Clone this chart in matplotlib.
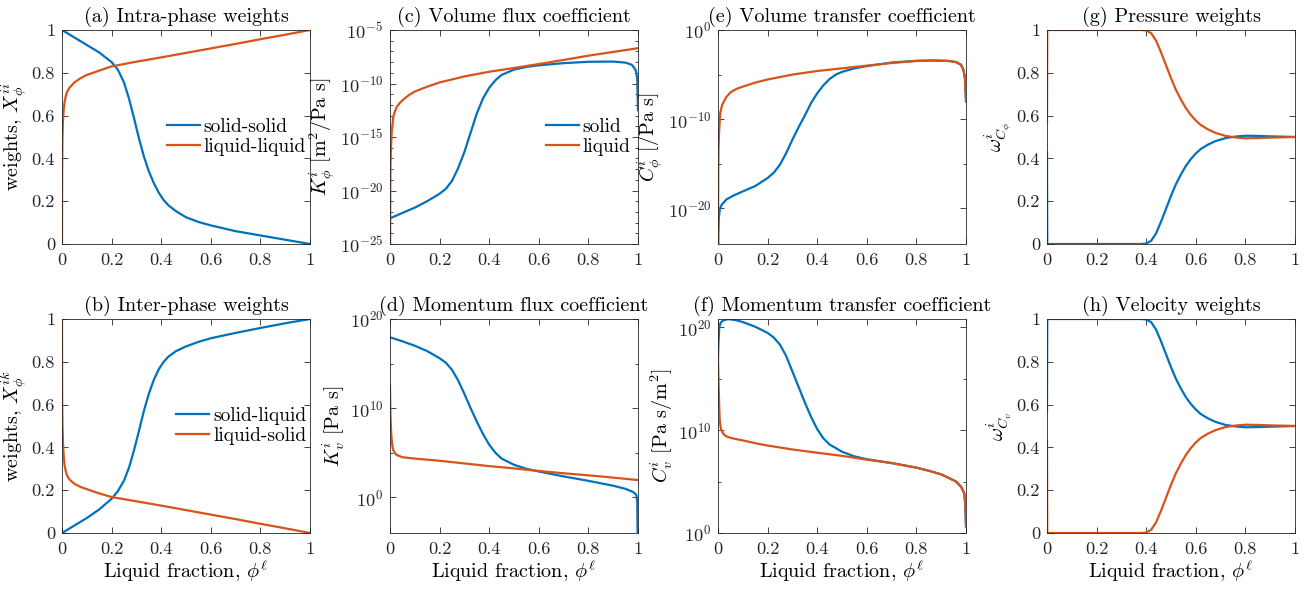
import numpy as np
import matplotlib
matplotlib.use("Agg")
import matplotlib.pyplot as plt

plt.rcParams['font.family'] = 'serif'
plt.rcParams['font.serif'] = ['cmr10']
plt.rcParams['mathtext.fontset'] = 'cm'
plt.rcParams['axes.unicode_minus'] = False

BLUE = '#0072BD'
ORANGE = '#D95319'
GREY = '#262626'
FS = 14.5       # titles and axis labels
TICK_FS = 13.2  # tick labels
LEG_FS = 14     # legend entries

# (a) intra-phase weights
xa_solid = [0, 0.05, 0.1, 0.15, 0.2, 0.225, 0.25, 0.27, 0.29, 0.31, 0.33, 0.35, 0.37, 0.39, 0.41,
            0.43, 0.46, 0.5, 0.55, 0.6, 0.7, 0.8, 0.9, 1]
ya_solid = [1, 0.965, 0.93, 0.895, 0.85, 0.815, 0.755, 0.68, 0.59, 0.495, 0.41, 0.34, 0.285, 0.24, 0.205,
            0.18, 0.153, 0.125, 0.103, 0.087, 0.06, 0.04, 0.02, 0]
xa_liquid = [0, 0.0005, 0.001, 0.002, 0.004, 0.007, 0.01, 0.015, 0.02, 0.03, 0.05, 0.075, 0.1, 0.15, 0.2,
             0.3, 0.4, 0.5, 0.6, 0.7, 0.8, 0.9, 1]
ya_liquid = [0, 0.3, 0.4, 0.5, 0.58, 0.63, 0.66, 0.69, 0.71, 0.73, 0.755, 0.775, 0.79, 0.81, 0.83,
             0.852, 0.872, 0.893, 0.914, 0.935, 0.957, 0.978, 1]

# (b) inter-phase weights
xb_sl = [0, 0.05, 0.1, 0.15, 0.2, 0.225, 0.25, 0.27, 0.29, 0.31, 0.33, 0.35, 0.37, 0.39, 0.41, 0.43,
         0.46, 0.5, 0.55, 0.6, 0.7, 0.8, 0.9, 1]
yb_sl = [0, 0.035, 0.07, 0.11, 0.16, 0.195, 0.245, 0.305, 0.385, 0.475, 0.57, 0.65, 0.715, 0.765, 0.8,
         0.825, 0.85, 0.872, 0.893, 0.91, 0.935, 0.958, 0.98, 1]
xb_ls = [0, 0.0005, 0.001, 0.002, 0.004, 0.007, 0.01, 0.015, 0.02, 0.03, 0.05, 0.075, 0.1, 0.15, 0.2,
         0.3, 0.4, 0.5, 0.6, 0.7, 0.8, 0.9, 1]
yb_ls = [1, 0.7, 0.6, 0.5, 0.42, 0.36, 0.32, 0.29, 0.27, 0.25, 0.23, 0.215, 0.205, 0.185, 0.168,
         0.148, 0.128, 0.107, 0.086, 0.065, 0.043, 0.022, 0]

# (c) volume flux coefficient, log10 of K_phi [m^2/Pa s]
xc_solid = [0, 0.05, 0.1, 0.15, 0.2, 0.225, 0.25, 0.275, 0.3, 0.325, 0.35, 0.375, 0.4, 0.425, 0.45, 0.5,
            0.55, 0.6, 0.7, 0.8, 0.9, 0.95, 0.975, 0.99, 0.997, 1]
lc_solid = [-22.6, -22.1, -21.6, -21.0, -20.3, -19.85, -19.1, -17.9, -16.4, -14.6, -12.8, -11.4, -10.4,
            -9.7, -9.2, -8.7, -8.45, -8.3, -8.1, -7.97, -7.95, -8.05, -8.25, -8.7, -9.5, -12.5]
xc_liquid = [0, 0.001, 0.002, 0.004, 0.007, 0.0135, 0.02, 0.027, 0.04, 0.054, 0.075, 0.1, 0.15, 0.2, 0.3,
             0.4, 0.5, 0.6, 0.7, 0.8, 0.9, 1]
lc_liquid = [-30, -20, -17.5, -16.0, -14.5, -13.1, -12.6, -12.2, -11.8, -11.5, -11.1, -10.75, -10.3, -9.9,
             -9.34, -8.9, -8.55, -8.18, -7.8, -7.4, -7.05, -6.7]

# (d) momentum flux coefficient, log10 of K_v [Pa s]
xd_solid = [0, 0.05, 0.1, 0.15, 0.2, 0.225, 0.25, 0.275, 0.3, 0.325, 0.35, 0.375, 0.4, 0.425, 0.45, 0.5,
            0.55, 0.6, 0.7, 0.8, 0.9, 0.95, 0.98, 0.993, 0.997, 1]
ld_solid = [17.95, 17.5, 17.0, 16.4, 15.6, 15.1, 14.3, 13.1, 11.6, 10.0, 8.5, 7.1, 5.9, 5.0, 4.35, 3.65,
            3.2, 2.9, 2.35, 1.85, 1.3, 0.95, 0.6, 0.3, -0.5, -8]
xd_liquid = [0, 0.001, 0.002, 0.003, 0.005, 0.007, 0.01, 0.013, 0.02, 0.027, 0.05, 0.094, 0.2, 0.3, 0.4,
             0.5, 0.566, 0.7, 0.836, 1]
ld_liquid = [12.55, 10.5, 9.0, 8.3, 7.1, 6.4, 5.7, 5.3, 4.95, 4.75, 4.5, 4.36, 4.1, 3.8, 3.5,
             3.25, 3.05, 2.7, 2.38, 1.94]

# (e) volume transfer coefficient, log10 of C_phi [/Pa s]
xe_solid = [0, 0.001, 0.003, 0.007, 0.015, 0.034, 0.06, 0.1, 0.15, 0.2, 0.225, 0.25, 0.275, 0.3, 0.325,
            0.35, 0.375, 0.4, 0.425, 0.45, 0.475, 0.5, 0.55, 0.6, 0.7, 0.8, 0.87, 0.93, 0.96, 0.98, 0.99,
            0.996, 1]
le_solid = [-30, -23, -21.2, -20.1, -19.6, -19.0, -18.6, -18.1, -17.5, -16.6, -16.0, -15.1, -13.8, -12.3,
            -10.9, -9.6, -8.2, -7.1, -6.2, -5.5, -5.0, -4.7, -4.3, -4.05, -3.65, -3.45, -3.42, -3.47,
            -3.6, -3.9, -4.5, -5.5, -8.0]
xe_liquid = [0, 0.001, 0.002, 0.004, 0.009, 0.015, 0.02, 0.034, 0.05, 0.075, 0.1, 0.15, 0.2, 0.3, 0.4,
             0.5, 0.6, 0.7, 0.8, 0.87, 0.93, 0.96, 0.98, 0.99, 0.996, 1]
le_liquid = [-30, -16, -13.5, -11.6, -9.3, -8.6, -8.2, -7.5, -7.0, -6.6, -6.35, -5.9, -5.55, -5.0, -4.6,
             -4.3, -4.0, -3.7, -3.48, -3.42, -3.47, -3.6, -3.9, -4.5, -5.5, -8.0]

# (f) momentum transfer coefficient, log10 of C_v [Pa s/m^2]
xf_solid = [0, 0.002, 0.005, 0.01, 0.02, 0.04, 0.07, 0.1, 0.15, 0.2, 0.225, 0.25, 0.275, 0.3, 0.325,
            0.35, 0.375, 0.4, 0.425, 0.45, 0.5, 0.55, 0.6, 0.7, 0.8, 0.85, 0.9, 0.933, 0.96, 0.98, 0.993,
            0.997, 1]
lf_solid = [17.0, 18.5, 20.0, 20.4, 20.65, 20.79, 20.7, 20.5, 20.05, 19.45, 19.0, 18.3, 17.2, 15.7, 14.2,
            12.7, 11.3, 10.1, 9.2, 8.6, 7.9, 7.45, 7.17, 6.8, 6.35, 6.05, 5.7, 5.32, 5.0, 4.5, 3.87,
            2.8, 0.64]
xf_liquid = [0, 0.001, 0.002, 0.003, 0.005, 0.007, 0.01, 0.013, 0.02, 0.027, 0.04, 0.06, 0.1, 0.168, 0.2,
             0.3, 0.4, 0.5, 0.6, 0.7, 0.8, 0.85, 0.9, 0.933, 0.96, 0.98, 0.993, 0.997, 1]
lf_liquid = [17.24, 16.0, 14.8, 13.86, 12.2, 10.96, 10.4, 10.0, 9.7, 9.5, 9.33, 9.19, 9.0, 8.64, 8.5,
             8.12, 7.8, 7.5, 7.13, 6.8, 6.35, 6.05, 5.7, 5.32, 5.0, 4.5, 3.87, 2.8, 0.64]

# (g) pressure weights and (h) velocity weights
xw = [0, 0.001, 0.38, 0.4, 0.42, 0.44, 0.46, 0.48, 0.5, 0.52, 0.54, 0.56, 0.58, 0.6, 0.62, 0.65, 0.68,
      0.72, 0.76, 0.8, 0.85, 0.9, 1]
wg_liquid = [0.57, 1, 1, 0.998, 0.985, 0.95, 0.895, 0.835, 0.775, 0.72, 0.675, 0.635, 0.603, 0.577, 0.556,
             0.535, 0.519, 0.505, 0.498, 0.494, 0.495, 0.497, 0.5]
wg_solid = [0.43, 0, 0, 0.002, 0.015, 0.05, 0.105, 0.165, 0.225, 0.28, 0.325, 0.365, 0.397, 0.423, 0.444,
            0.465, 0.481, 0.495, 0.502, 0.506, 0.505, 0.503, 0.5]
wh_solid = [0.57, 1, 1, 0.998, 0.985, 0.95, 0.895, 0.835, 0.775, 0.72, 0.675, 0.635, 0.603, 0.577, 0.556,
            0.535, 0.519, 0.505, 0.498, 0.494, 0.495, 0.497, 0.5]
wh_liquid = [0.43, 0, 0, 0.002, 0.015, 0.05, 0.105, 0.165, 0.225, 0.28, 0.325, 0.365, 0.397, 0.423, 0.444,
             0.465, 0.481, 0.495, 0.502, 0.506, 0.505, 0.503, 0.5]

lin_ticks = [0, 0.2, 0.4, 0.6, 0.8, 1]
lin_labels = ['0', '0.2', '0.4', '0.6', '0.8', '1']

fig = plt.figure(figsize=(13.09, 5.90), dpi=100)
W, H = 1309, 590


def make_axes(left, top):
    ax = fig.add_axes([left / W, (H - top - 214) / H, 248 / W, 214 / H])
    ax.tick_params(direction='in', which='both', top=True, right=True, colors=GREY,
                   length=4, width=0.6, labelsize=TICK_FS, labelcolor=GREY)
    ax.tick_params(which='minor', length=2.5)
    for s in ax.spines.values():
        s.set_color(GREY)
        s.set_linewidth(0.6)
    ax.set_xlim(0, 1)
    ax.set_xticks(lin_ticks)
    ax.set_xticklabels(lin_labels)
    ax.tick_params(axis='x', pad=6)
    ax.tick_params(axis='y', pad=5)
    return ax


def lin_y(ax):
    ax.set_ylim(0, 1)
    ax.set_yticks(lin_ticks)
    ax.set_yticklabels(lin_labels)


def log_y(ax, lo, hi, major, minor):
    ax.set_yscale('log')
    ax.set_ylim(10.0 ** lo, 10.0 ** hi)
    ax.set_yticks([10.0 ** e for e in major])
    ax.set_yticklabels([r'$10^{%d}$' % e for e in major])
    ax.set_yticks([10.0 ** e for e in minor], minor=True)
    ax.yaxis.set_minor_formatter(plt.NullFormatter())


def finish(ax, title, ylabel, xlabel=True):
    ax.set_title(title, fontsize=FS, pad=6)
    ax.set_ylabel(ylabel, fontsize=FS, labelpad=2)
    if xlabel:
        ax.set_xlabel(r'Liquid fraction, $\phi^\ell$', fontsize=FS, labelpad=1)


def add_legend(ax, xpos):
    ax.legend(loc='center left', bbox_to_anchor=(xpos, 0.5), frameon=False, fontsize=LEG_FS,
              handlelength=1.7, handletextpad=0.2, labelspacing=0.1, borderpad=0, borderaxespad=0)


lw = 1.6
lefts = [62, 390, 718, 1047]
tops = [30, 319]

# (a)
ax = make_axes(lefts[0], tops[0])
ax.plot(xa_solid, ya_solid, color=BLUE, lw=lw, label='solid-solid')
ax.plot(xa_liquid, ya_liquid, color=ORANGE, lw=lw, label='liquid-liquid')
lin_y(ax)
finish(ax, '(a) Intra-phase weights', r'weights, $X_\phi^{ii}$', xlabel=False)
add_legend(ax, 0.423)

# (b)
ax = make_axes(lefts[0], tops[1])
ax.plot(xb_sl, yb_sl, color=BLUE, lw=lw, label='solid-liquid')
ax.plot(xb_ls, yb_ls, color=ORANGE, lw=lw, label='liquid-solid')
lin_y(ax)
finish(ax, '(b) Inter-phase weights', r'weights, $X_\phi^{ik}$')
add_legend(ax, 0.46)

# (c)
ax = make_axes(lefts[1], tops[0])
ax.plot(xc_solid, 10.0 ** np.array(lc_solid), color=BLUE, lw=lw, label='solid')
ax.plot(xc_liquid, 10.0 ** np.array(lc_liquid), color=ORANGE, lw=lw, label='liquid')
log_y(ax, -25, -5, [-25, -20, -15, -10, -5], [e for e in range(-24, -5) if e % 5])
finish(ax, '(c) Volume flux coefficient', r'$K_\phi^i$ [m$^2$/Pa s]', xlabel=False)
add_legend(ax, 0.628)

# (d)
ax = make_axes(lefts[1], tops[1])
ax.plot(xd_solid, 10.0 ** np.array(ld_solid), color=BLUE, lw=lw)
ax.plot(xd_liquid, 10.0 ** np.array(ld_liquid), color=ORANGE, lw=lw)
log_y(ax, -4, 20, [0, 10, 20], [5, 15])
finish(ax, '(d) Momentum flux coefficient', r'$K_v^i$ [Pa s]')

# (e)
ax = make_axes(lefts[2], tops[0])
ax.plot(xe_solid, 10.0 ** np.array(le_solid), color=BLUE, lw=lw)
ax.plot(xe_liquid, 10.0 ** np.array(le_liquid), color=ORANGE, lw=lw)
log_y(ax, -24, 0, [-20, -10, 0], [-15, -5])
finish(ax, '(e) Volume transfer coefficient', r'$C_\phi^i$ [/Pa s]', xlabel=False)

# (f)
ax = make_axes(lefts[2], tops[1])
ax.plot(xf_solid, 10.0 ** np.array(lf_solid), color=BLUE, lw=lw)
ax.plot(xf_liquid, 10.0 ** np.array(lf_liquid), color=ORANGE, lw=lw)
log_y(ax, 0, 20.8, [0, 10, 20], [5, 15])
finish(ax, '(f) Momentum transfer coefficient', r'$C_v^i$ [Pa s/m$^2$]')

# (g)
ax = make_axes(lefts[3], tops[0])
ax.plot(xw, wg_solid, color=BLUE, lw=lw)
ax.plot(xw, wg_liquid, color=ORANGE, lw=lw)
lin_y(ax)
finish(ax, '(g) Pressure weights', r'$\omega^i_{C_\phi}$', xlabel=False)

# (h)
ax = make_axes(lefts[3], tops[1])
ax.plot(xw, wh_solid, color=BLUE, lw=lw)
ax.plot(xw, wh_liquid, color=ORANGE, lw=lw)
lin_y(ax)
finish(ax, '(h) Velocity weights', r'$\omega^i_{C_v}$')

fig.savefig('out.png', dpi=100)
